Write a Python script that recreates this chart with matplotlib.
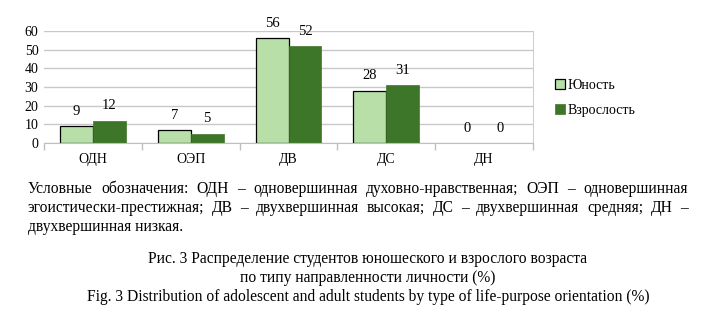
import numpy as np
import matplotlib.pyplot as plt

plt.rcParams['font.family'] = ['Liberation Serif', 'DejaVu Serif']

categories = ['ОДН', 'ОЭП', 'ДВ', 'ДС', 'ДН']
youth = [9, 7, 56, 28, 0]
adult = [12, 5, 52, 31, 0]
series_names = ['Юность', 'Взрослость']

light = '#b8dfa8'
dark = '#3e7629'

fig = plt.figure(figsize=(7.01, 3.22), dpi=100)
ax = fig.add_axes([44 / 701, 1 - 143 / 322, 489 / 701, 112 / 322])

x = np.arange(len(categories))
w = 0.337
b1 = ax.bar(x - w / 2, youth, w, color=light, edgecolor='black', linewidth=0.9, label=series_names[0])
b2 = ax.bar(x + w / 2, adult, w, color=dark, edgecolor=dark, linewidth=0.5, label=series_names[1])

for bars in (b1, b2):
    for r in bars:
        h = r.get_height()
        if h == 0:
            r.set_linewidth(0)
        ax.annotate(f'{h:g}', (r.get_x() + r.get_width() / 2, h), xytext=(0, 6),
                    textcoords='offset points', ha='center', va='bottom', fontsize=10.5)

ax.set_xlim(-0.5, len(categories) - 0.5)
ax.set_ylim(0, 60)
ax.set_yticks(range(0, 61, 10))
ax.yaxis.grid(True, color='#c8c8c8', linewidth=1)
ax.set_axisbelow(True)
ax.set_xticks(x)
ax.set_xticklabels(categories, fontsize=10)
ax.tick_params(axis='x', length=0, pad=7)
ax.set_xticks(np.arange(-0.5, len(categories)), minor=True)
ax.tick_params(axis='x', which='minor', length=5, color='#bfbfbf', width=1)
ax.tick_params(axis='y', length=0, labelsize=10, pad=4)
for s in ('top', 'left'):
    ax.spines[s].set_visible(False)
ax.spines['bottom'].set_color('#bfbfbf')
ax.spines['right'].set_color('#d0d0d0')

fig.legend(loc='upper left', bbox_to_anchor=(548 / 701, 1 - 72 / 322), frameon=False,
           fontsize=10, handlelength=0.7, handleheight=0.7, handletextpad=0.2,
           labelspacing=0.85, borderpad=0)

# justified notes under the chart
fs = 11.2
renderer = fig.canvas.get_renderer()


def put_justified(words, y, x0, x1):
    texts = [fig.text(0, y / 322, wd, fontsize=fs, va='baseline', ha='left',
                      transform=fig.transFigure) for wd in words]
    widths = [t.get_window_extent(renderer).width for t in texts]
    gap = (x1 - x0 - sum(widths)) / (len(words) - 1)
    cur = x0
    for t, wdt in zip(texts, widths):
        t.set_position((cur / 701, 1 - y / 322))
        cur += wdt + gap


put_justified('Условные обозначения: ОДН – одновершинная духовно-нравственная; ОЭП – одновершинная'.split(),
              193, 28, 688)
put_justified('эгоистически-престижная; ДВ – двухвершинная высокая; ДС – двухвершинная средняя; ДН –'.split(),
              212, 28, 688)
fig.text(28 / 701, 1 - 231 / 322, 'двухвершинная низкая.', fontsize=fs, va='baseline')

cx = 368 / 701
fig.text(cx, 1 - 263 / 322, 'Рис. 3 Распределение студентов юношеского и взрослого возраста',
         fontsize=fs, ha='center', va='baseline')
fig.text(cx, 1 - 282 / 322, 'по типу направленности личности (%)',
         fontsize=fs, ha='center', va='baseline')
fig.text(cx, 1 - 301 / 322, 'Fig. 3 Distribution of adolescent and adult students by type of life-purpose orientation (%)',
         fontsize=fs, ha='center', va='baseline')

fig.savefig('out.png', dpi=100)
